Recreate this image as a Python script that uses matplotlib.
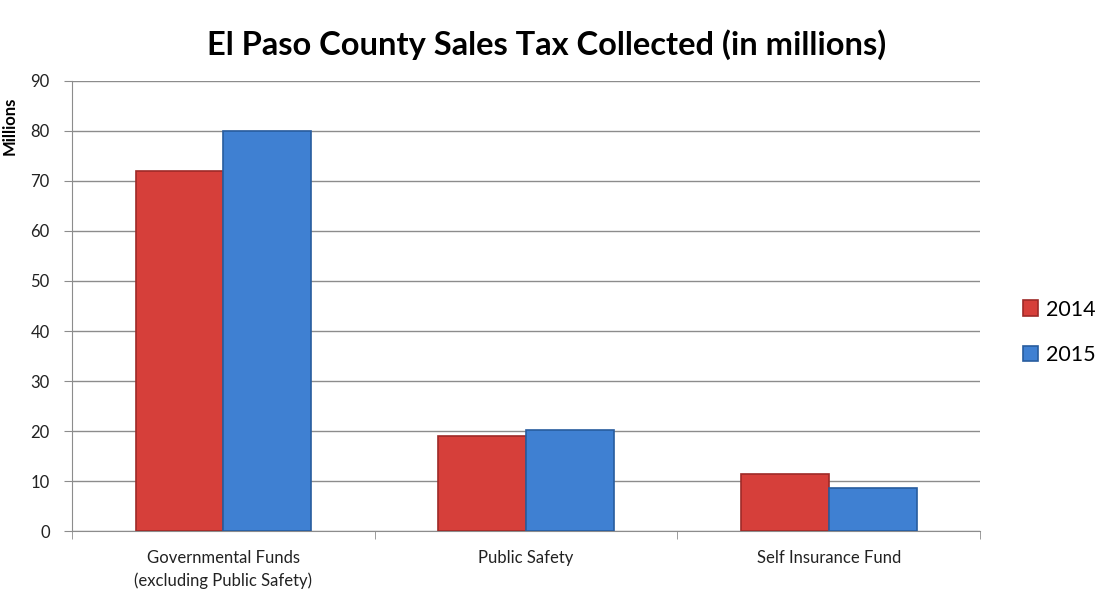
import matplotlib.pyplot as plt
import numpy as np

categories = ['Governmental Funds\n(excluding Public Safety)', 'Public Safety', 'Self Insurance Fund']
vals_2014 = [72, 19.1, 11.4]
vals_2015 = [80, 20.2, 8.6]
years = ['2014', '2015']

plt.rcParams['font.family'] = ['Lato', 'DejaVu Sans']

fig = plt.figure(figsize=(11, 5.99), dpi=100)
ax = fig.add_axes([0.0655, 0.1135, 0.8255, 0.7513])

x = np.arange(len(categories))
w = 0.29
b1 = ax.bar(x - w / 2, vals_2014, w, color='#D63F3A', edgecolor='#9E2A27', linewidth=1.2, label=years[0], zorder=3)
b2 = ax.bar(x + w / 2, vals_2015, w, color='#3F80D2', edgecolor='#285C9E', linewidth=1.2, label=years[1], zorder=3)

ax.set_xlim(-0.5, 2.5)
ax.set_ylim(0, 90)
ax.set_yticks(range(0, 91, 10))
ax.yaxis.grid(True, color='#8C8C8C', linewidth=1)
ax.set_axisbelow(True)

ax.set_xticks(x)
ax.set_xticklabels(categories, fontsize=12, color='#222222', linespacing=1.45)
ax.tick_params(axis='x', length=0, pad=14)
ax.set_xticks([-0.5, 0.5, 1.5, 2.5], minor=True)
ax.tick_params(axis='x', which='minor', length=6, color='#8C8C8C')
ax.tick_params(axis='y', length=6, color='#8C8C8C', labelsize=12, labelcolor='#222222', pad=10)

for s in ['top', 'right']:
    ax.spines[s].set_visible(False)
ax.spines['left'].set_color('#8C8C8C')
ax.spines['bottom'].set_color('#8C8C8C')

ax.set_ylabel('Millions', fontsize=12, fontweight='bold', labelpad=6)
ax.yaxis.set_label_coords(-0.06, 0.9)

fig.text(0.497, 0.925, 'El Paso County Sales Tax Collected (in millions)',
         ha='center', va='center', fontsize=23.5, fontweight='bold')

fig.legend(handles=[b1, b2], labels=years, loc='center left', bbox_to_anchor=(0.912, 0.445),
           frameon=False, fontsize=15.5, handlelength=0.7, handleheight=0.7, labelspacing=1.2,
           handletextpad=0.4)

fig.savefig('out.png')
